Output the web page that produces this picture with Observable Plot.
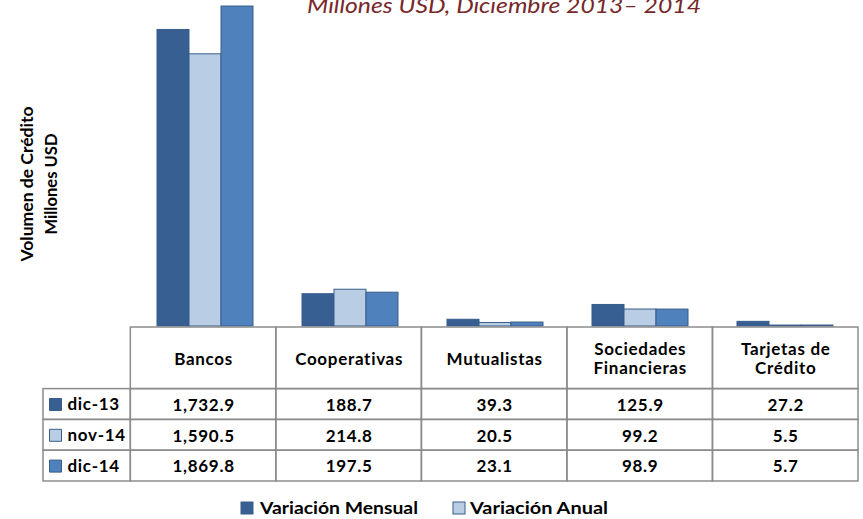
<!DOCTYPE html>
<html><head><meta charset="utf-8">
<script src="https://cdn.jsdelivr.net/npm/d3@7"></script>
<script src="https://cdn.jsdelivr.net/npm/@observablehq/plot@0.6"></script>
<style>
body{margin:0;background:#fff;}
#wrap{position:relative;width:863px;height:519px;overflow:hidden;background:#fff;font-family:Lato,sans-serif;}
#wrap > svg{position:absolute;left:0;}
#wrap > svg.tbl text{letter-spacing:0.7px;}
</style></head><body><div id="wrap"></div>
<script>
const categories = ["Bancos","Cooperativas","Mutualistas","Sociedades Financieras","Tarjetas de Crédito"];
const headerLabels = ["Bancos","Cooperativas","Mutualistas","Sociedades\nFinancieras","Tarjetas de\nCrédito"];
const series = ["dic-13","nov-14","dic-14"];
const dic13 = [1732.9,188.7,39.3,125.9,27.2];
const nov14 = [1590.5,214.8,20.5,99.2,5.5];
const dic14 = [1869.8,197.5,23.1,98.9,5.7];
const seriesColors = ["#375f92","#b9cde5","#4f81bd"];
const legendLabels = ["Variación Mensual","Variación Anual"];
const legendColors = ["#375f92","#b9cde5"];
const title = "Millones USD, Diciembre 2013– 2014";
const yLabelLines = ["Volumen de Crédito","Millones USD"];
const yMax = 1905;

const values = [dic13, nov14, dic14];
const fmt = d3.format(",.1f");
const rows = series.flatMap((s, j) => categories.map((c, i) => ({cat: c, series: s, value: values[j][i]})));

const wrap = document.getElementById("wrap");

const main = Plot.plot({
  width: 863, height: 327, marginTop: 0, marginBottom: 1, marginLeft: 130, marginRight: 5,
  fx: {domain: categories, padding: 0, axis: null},
  x: {domain: series, paddingInner: 0, paddingOuter: 0.76, axis: null},
  y: {domain: [0, yMax], axis: null},
  color: {domain: series, range: seriesColors},
  marks: [
    Plot.barY(rows, {fx: "cat", x: "series", y: "value", fill: "series", stroke: "#385d8a", strokeWidth: 1})
  ]
});
main.style.top = "0px";
wrap.appendChild(main);

const labelColWidth = 0.6;
const headerCells = categories.map((c, i) => ({x1: i, x2: i + 1, y1: 0, y2: 2, label: headerLabels[i]}));
const dataCells = series.flatMap((s, j) => categories.map((c, i) => ({x1: i, x2: i + 1, y1: j + 2, y2: j + 3, label: fmt(values[j][i])})));
const labelCells = series.map((s, j) => ({x1: -labelColWidth, x2: 0, y1: j + 2, y2: j + 3, label: s}));
const txt = {fontSize: 17, fontWeight: "bold", fontFamily: "Lato", fill: "#000"};

const table = Plot.plot({
  width: 863, height: 157, marginTop: 1, marginBottom: 2, marginLeft: 43, marginRight: 5,
  x: {domain: [-labelColWidth, categories.length], axis: null},
  y: {domain: [0, 5], reverse: true, axis: null},
  color: {domain: series, range: seriesColors},
  marks: [
    Plot.rect([...headerCells, ...dataCells, ...labelCells], {x1: "x1", x2: "x2", y1: "y1", y2: "y2", fill: "none", stroke: "#8c8c8c", strokeWidth: 1.5}),
    Plot.text([...headerCells, ...dataCells], {x: d => (d.x1 + d.x2) / 2, y: d => (d.y1 + d.y2) / 2, text: "label", lineHeight: 1.15, ...txt}),
    Plot.dot(labelCells, {x: "x1", y: d => (d.y1 + d.y2) / 2, dx: 12, symbol: "square", r: 6.77, fill: "label", stroke: "#385d8a", strokeWidth: 1}),
    Plot.text(labelCells, {x: "x1", y: d => (d.y1 + d.y2) / 2, dx: 24, textAnchor: "start", text: "label", ...txt})
  ]
});
table.style.top = "326px";
table.classList.add("tbl");
wrap.appendChild(table);

const ov = d3.create("svg").attr("width", 863).attr("height", 519).style("top", "0px").style("pointer-events", "none")
  .attr("font-family", "Lato");
ov.append("text").attr("x", 504).attr("y", 13).attr("text-anchor", "middle").attr("font-style", "italic")
  .attr("font-size", 22).attr("fill", "#76282a").attr("textLength", 394).attr("lengthAdjust", "spacingAndGlyphs").text(title);
const yl = [{x: 33, len: 155}, {x: 57, len: 101}];
yLabelLines.forEach((t, i) => {
  ov.append("text").attr("transform", `translate(${yl[i].x},184) rotate(-90)`).attr("text-anchor", "middle")
    .attr("font-weight", "bold").attr("font-size", 17).attr("fill", "#000")
    .attr("textLength", yl[i].len).attr("lengthAdjust", "spacingAndGlyphs").text(t);
});
const lg = [{sx: 241, tx: 260, len: 158}, {sx: 453, tx: 470, len: 138}];
legendLabels.forEach((t, i) => {
  ov.append("rect").attr("x", lg[i].sx).attr("y", 502).attr("width", 12).attr("height", 12)
    .attr("fill", legendColors[i]).attr("stroke", "#385d8a").attr("stroke-width", 1);
  ov.append("text").attr("x", lg[i].tx).attr("y", 514).attr("font-weight", "bold").attr("font-size", 17)
    .attr("fill", "#000").attr("textLength", lg[i].len).attr("lengthAdjust", "spacingAndGlyphs").text(t);
});
wrap.appendChild(ov.node());
</script></body></html>
